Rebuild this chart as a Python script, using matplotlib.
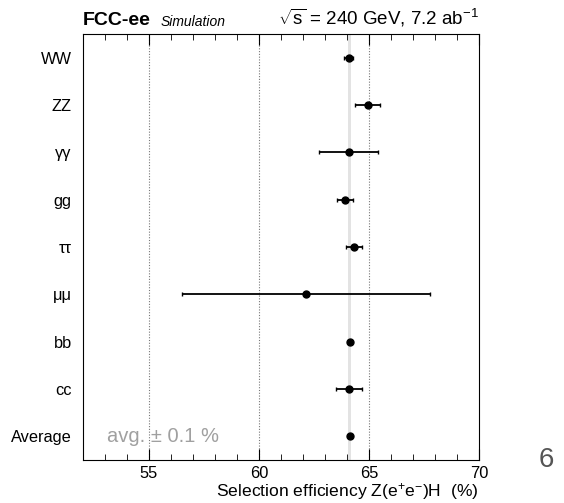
import numpy as np
import matplotlib
matplotlib.use("Agg")
import matplotlib.pyplot as plt
from matplotlib.ticker import MultipleLocator

plt.rcParams['font.family'] = ['Liberation Sans', 'DejaVu Sans']
plt.rcParams['mathtext.fontset'] = 'custom'
plt.rcParams['mathtext.rm'] = 'Liberation Sans'
plt.rcParams['mathtext.it'] = 'Liberation Sans:italic'

# donnees
canaux = ["WW", "ZZ", "γγ", "gg", "ττ", "μμ", "bb", "cc", "Average"]
efficacite = [64.08, 64.94, 64.09, 63.90, 64.34, 62.14, 64.14, 64.10, 64.14]
erreur = [0.20, 0.58, 1.34, 0.37, 0.36, 5.63, 0.05, 0.58, 0.02]
moyenne = 64.14
demi_bande = 0.07

fig = plt.figure(figsize=(5.64, 5.03), dpi=100)
ax = fig.add_axes([0.147, 0.0855, 0.702, 0.8465])

y = np.arange(len(canaux))[::-1]

ax.axvspan(moyenne - demi_bande, moyenne + demi_bande, color="#e3e3e3", lw=0, zorder=1)
for xv in [55, 60, 65]:
    ax.axvline(xv, color="#777777", ls=(0, (1, 1.5)), lw=0.8, zorder=1)

ax.errorbar(efficacite, y, xerr=erreur, fmt="o", color="black", ms=5,
            elinewidth=1.3, capsize=1.5, capthick=1.0, zorder=3)

ax.set_xlim(52, 70)
ax.set_ylim(-0.5, len(canaux) - 0.5)
ax.set_yticks(y)
ax.set_yticklabels(canaux, fontsize=11.8)
ax.tick_params(axis="y", length=0, pad=8)
ax.xaxis.set_major_locator(MultipleLocator(5))
ax.xaxis.set_minor_locator(MultipleLocator(1))
ax.tick_params(axis="x", which="both", direction="in", top=True, labelsize=11.8, pad=4)
ax.tick_params(axis="x", which="major", length=8)
ax.tick_params(axis="x", which="minor", length=4)

ax.set_xlabel(r"Selection efficiency Z(e$^{+}$e$^{-}$)H  (%)", fontsize=12.6,
              loc="right", labelpad=0)

ax.text(0.0, 1.012, "FCC-ee", transform=ax.transAxes, fontsize=14, fontweight="bold",
        ha="left", va="bottom")
ax.text(0.195, 1.012, "Simulation", transform=ax.transAxes, fontsize=10, style="italic",
        ha="left", va="bottom")
ax.text(1.0, 1.012, r"$\sqrt{\mathrm{s}}$ = 240 GeV, 7.2 ab$^{-1}$", transform=ax.transAxes,
        fontsize=13.5, ha="right", va="bottom")
ax.text(53.1, 0, "avg. ± 0.1 %", color="#a0a0a0", fontsize=14.5, ha="left", va="center")

fig.text(0.955, 0.085, "6", fontsize=20, color="#555555", ha="left", va="center")

fig.savefig("out.png", dpi=100)
